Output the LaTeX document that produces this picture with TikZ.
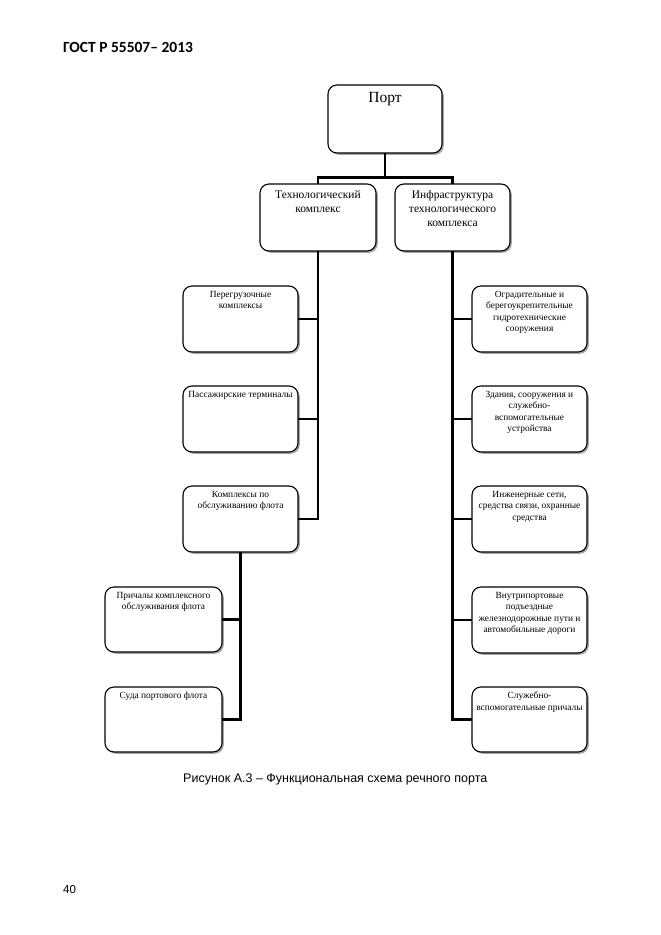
\documentclass[tikz,border=0pt]{standalone}
\usepackage{fontspec}
\setmainfont{Liberation Serif}
\newfontfamily\hdrfont{Carlito}
\newfontfamily\capfont{Liberation Sans}
\usetikzlibrary{shadows}
\tikzset{
  box/.style={draw=black, line width=1.1pt, rounded corners=9pt, fill=white,
    drop shadow={shadow xshift=1.8pt, shadow yshift=-1.8pt, fill=black!35, opacity=1},
    inner sep=0pt, outer sep=0pt},
  boxtext/.style={align=center, inner sep=0pt, font=\fontsize{9.4}{11.5}\selectfont},
  conn/.style={draw=black, line width=2.8pt, line join=miter}
}
\newcommand\bx[8]{%
  \node[box, minimum width={(#4-#2)*1pt}, minimum height={(#5-#3)*1pt}] (#1) at ({(#2+#4)/2},{(#3+#5)/2}) {};
  \node[boxtext, anchor=north, #6] (#1t) at ([yshift=-#7pt]#1.north) {#8};%
}
\begin{document}
\begin{tikzpicture}[x=1pt,y=-1pt]
\useasboundingbox (0,0) rectangle (661,935);
\node[anchor=base west, inner sep=0pt, font=\hdrfont\bfseries\fontsize{15.5}{18}\selectfont] (hdr) at (63,52) {ГОСТ Р 55507– 2013};

\bx{port}{328}{85}{442}{153}{font=\fontsize{15.5}{18}\selectfont}{7}{Порт}
\bx{tech}{260}{184}{376}{251}{font=\fontsize{11.5}{14}\selectfont}{6.5}{Технологический\\комплекс}
\bx{infra}{395}{184}{510}{251}{font=\fontsize{11.5}{14}\selectfont}{6.5}{Инфраструктура\\технологического\\комплекса}

\bx{L1}{183}{286}{298}{352}{}{5}{Перегрузочные\\комплексы}
\bx{L2}{183}{386}{298}{452}{}{5}{Пассажирские терминалы}
\bx{L3}{183}{486}{298}{552}{}{5}{Комплексы по\\обслуживанию флота}
\bx{L4}{105}{587}{222}{652}{}{5}{Причалы комплексного\\обслуживания флота}
\bx{L5}{105}{687}{222}{752}{}{5}{Суда портового флота}

\bx{R1}{472}{286}{587}{352}{}{5}{Оградительные и\\берегоукрепительные\\гидротехнические\\сооружения}
\bx{R2}{472}{386}{587}{452}{}{5}{Здания, сооружения и\\служебно-\\вспомогательные\\устройства}
\bx{R3}{472}{486}{587}{552}{}{5}{Инженерные сети,\\средства связи, охранные\\средства}
\bx{R4}{472}{587}{587}{653}{}{5}{Внутрипортовые\\подъездные\\железнодорожные пути и\\автомобильные дороги}
\bx{R5}{472}{687}{587}{752}{}{5}{Служебно-\\вспомогательные причалы}

\coordinate (jt) at (385,177.5);
\draw[conn] (port.south) -- (port.south |- jt);
\draw[conn] (tech.north) |- (jt) -| (infra.north);

\draw[conn] (tech.south) |- (L3.east);
\draw[conn] (L1.east) -- (L1.east -| tech.south);
\draw[conn] (L2.east) -- (L2.east -| tech.south);

\draw[conn] (L3.south) |- (L5.east);
\draw[conn] (L4.east) -- (L4.east -| L3.south);

\draw[conn] (infra.south) |- (R5.west);
\draw[conn] (R1.west) -- (R1.west -| infra.south);
\draw[conn] (R2.west) -- (R2.west -| infra.south);
\draw[conn] (R3.west) -- (R3.west -| infra.south);
\draw[conn] (R4.west) -- (R4.west -| infra.south);

\node[anchor=base west, inner sep=0pt, font=\capfont\fontsize{12.5}{15}\selectfont] (cap) at (183,782) {Рисунок А.3 – Функциональная схема речного порта};
\node[anchor=base west, inner sep=0pt, font=\capfont\fontsize{11.5}{14}\selectfont] (pg) at (63,893) {40};
\end{tikzpicture}
\end{document}
